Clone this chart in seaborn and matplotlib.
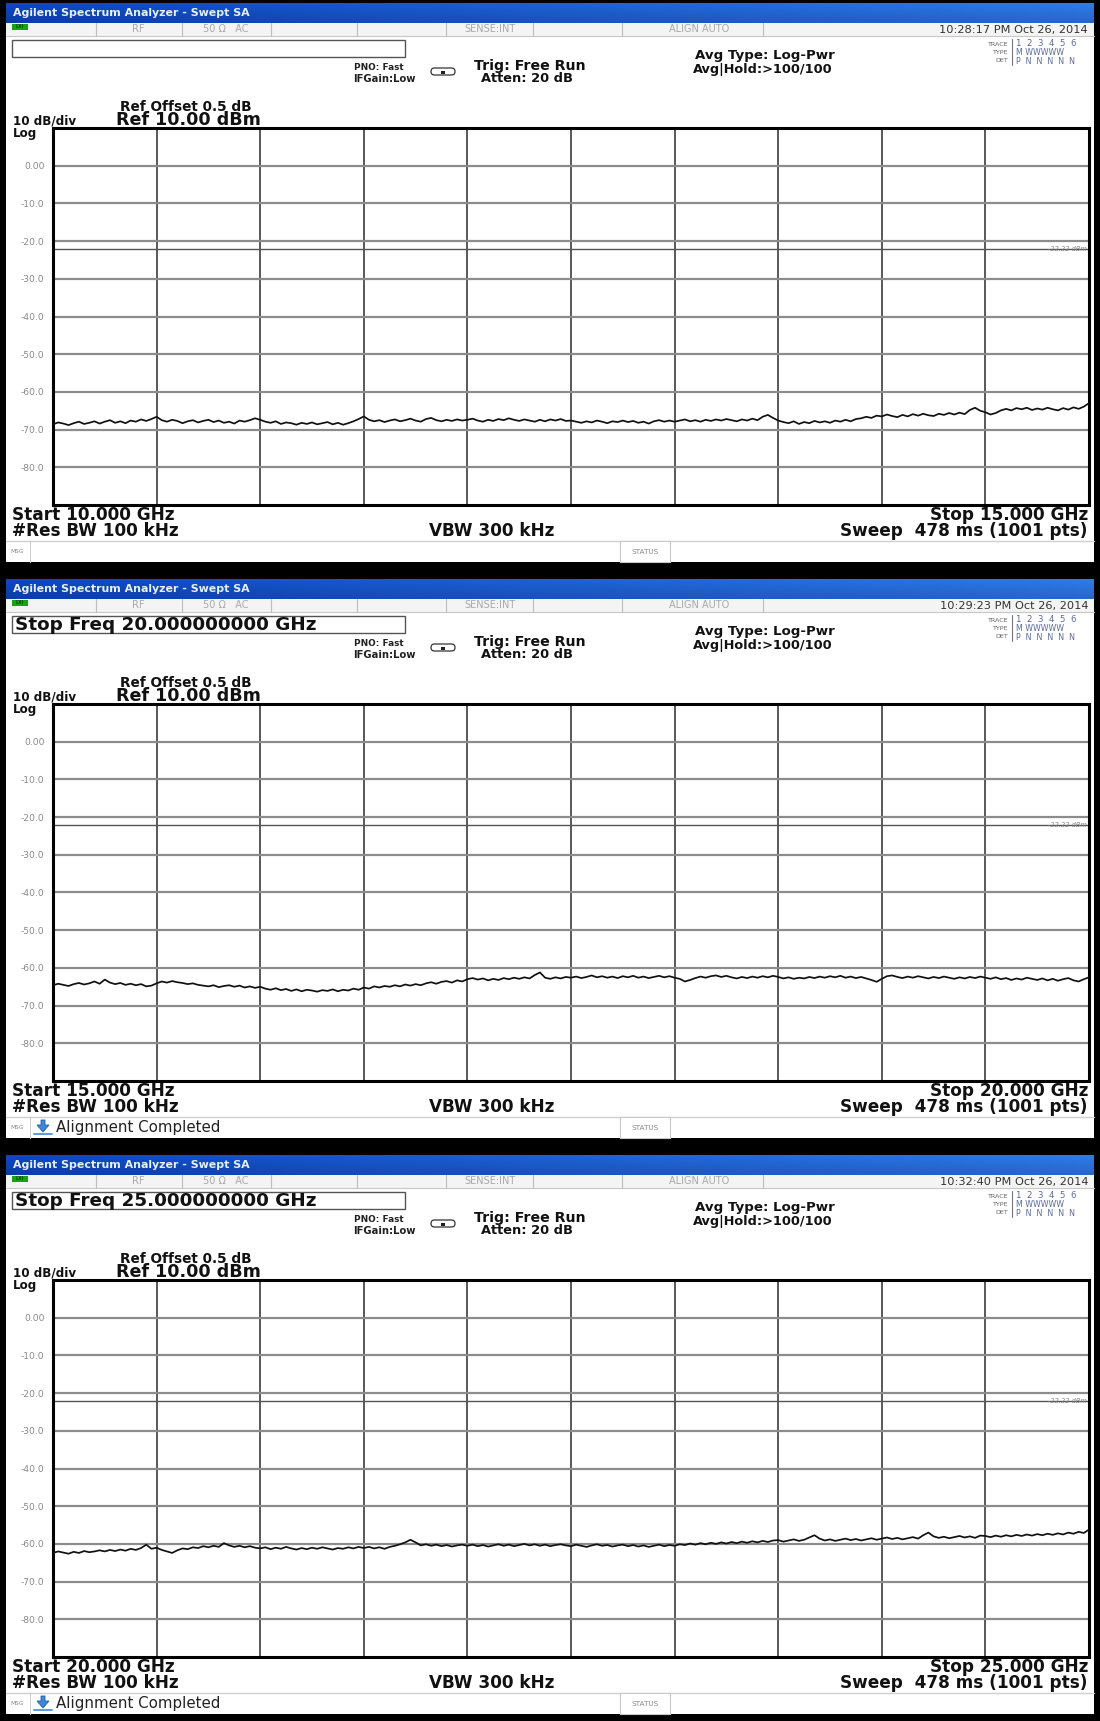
import numpy as np
import pandas as pd
import matplotlib
matplotlib.use("Agg")
import matplotlib.pyplot as plt
import seaborn as sns
from matplotlib.patches import Rectangle, FancyBboxPatch, Polygon

# ---------------------------------------------------------------- data
start_ghz = [10.0, 15.0, 20.0]
stop_ghz = [15.0, 20.0, 25.0]
input_text = ["", "Stop Freq 20.000000000 GHz", "Stop Freq 25.000000000 GHz"]
timestamps = ["10:28:17 PM Oct 26, 2014", "10:29:23 PM Oct 26, 2014",
              "10:32:40 PM Oct 26, 2014"]
msg_text = ["", "Alignment Completed", "Alignment Completed"]

ytick_values = [0, -10, -20, -30, -40, -50, -60, -70, -80]
ytick_labels = ["0.00", "-10.0", "-20.0", "-30.0", "-40.0", "-50.0",
                "-60.0", "-70.0", "-80.0"]
ref_level = 10.0
bottom_level = -90.0
display_line = -22.22

# averaged trace levels (dBm), one reading every 25 MHz across each span
trace_10_15 = [
    -68.6, -68.1, -68.4, -68.8, -68.3, -67.9, -68.5, -68.2, -67.8, -68.4,
    -67.9, -67.5, -68.2, -67.8, -68.3, -67.6, -67.9, -67.3, -67.7, -67.2,
    -66.6, -67.5, -67.9, -67.4, -67.7, -68.3, -67.8, -67.5, -68.1, -67.7,
    -67.4, -68.0, -67.6, -68.2, -67.9, -68.4, -67.6, -67.9, -67.5, -67.0,
    -67.4, -67.9, -68.2, -67.8, -68.5, -68.1, -68.3, -68.7, -68.2, -68.5,
    -68.1, -68.6, -68.3, -68.0, -68.6, -68.2, -68.7, -68.3, -67.8, -67.2,
    -66.5, -67.4, -67.8, -67.5, -68.0, -67.6, -67.3, -67.8, -67.5, -67.1,
    -67.6, -67.9, -67.2, -66.9, -67.5, -67.8, -67.4, -67.7, -67.3, -67.6,
    -67.4, -67.1, -67.6, -67.9, -67.4, -67.7, -67.2, -67.5, -67.0, -67.4,
    -67.7, -67.3, -67.6, -67.9, -67.4, -67.8, -67.3, -67.6, -67.2, -67.7,
    -67.6, -67.9, -68.2, -67.8, -68.1, -67.6, -67.9, -68.3, -67.8, -68.0,
    -67.6, -68.0, -67.7, -68.2, -67.9, -68.4, -67.8, -67.5, -67.9, -67.6,
    -67.9, -67.6, -67.3, -67.8, -67.5, -67.9, -67.4, -67.7, -67.3, -67.6,
    -67.2, -67.5, -67.8, -67.3, -67.6, -67.1, -67.5, -66.6, -66.1, -66.9,
    -67.6, -68.0, -68.3, -67.8, -68.5, -68.0, -68.3, -67.7, -68.1, -67.8,
    -68.2, -67.6, -67.9, -67.4, -67.8, -67.2, -67.0, -66.6, -66.9, -66.3,
    -66.5, -66.0, -66.4, -66.7, -66.1, -66.5, -65.9, -66.3, -65.8, -66.2,
    -66.4, -65.8, -66.1, -65.6, -66.0, -65.5, -65.9, -64.8, -64.2, -65.0,
    -65.4, -66.0, -65.6, -64.9, -64.5, -64.9, -64.3, -64.6, -64.2, -64.8,
    -64.4, -64.7, -64.2, -64.6, -64.9, -64.3, -64.7, -64.1, -64.5, -63.9,
    -63.0,
]
trace_15_20 = [
    -64.6, -64.2, -64.5, -64.8, -64.3, -64.0, -64.4, -64.1, -63.6, -64.2,
    -63.1, -63.9, -64.3, -64.0, -64.5, -64.2, -64.6, -64.3, -64.9, -64.7,
    -64.1, -63.6, -63.9, -63.5, -63.8, -64.0, -64.3, -64.1, -64.5, -64.7,
    -64.9, -64.6, -65.1, -64.8, -64.6, -65.0, -64.7, -65.2, -64.9, -65.3,
    -65.0, -65.5, -65.8, -65.4, -65.9, -65.6, -66.1, -65.7, -66.2, -65.8,
    -66.0, -66.3, -65.9, -66.1, -65.7, -66.2, -65.8, -66.0, -65.5, -65.8,
    -65.2, -65.5, -64.9, -65.2, -64.8, -65.0, -64.6, -64.9, -64.4, -64.7,
    -64.3, -64.6, -64.1, -63.8, -64.2, -63.7, -63.5, -63.9, -63.3, -63.6,
    -63.0, -62.7, -63.1, -62.8, -63.3, -62.9, -63.2, -62.7, -63.0, -62.6,
    -62.9, -62.5, -62.8, -61.9, -61.2, -62.6, -62.9, -62.5, -62.8, -62.4,
    -62.6, -62.3, -62.7, -62.4, -62.0, -62.5, -62.2, -62.6, -62.3, -62.7,
    -62.2, -62.5, -62.1, -62.6, -62.3, -62.7, -62.4, -62.1, -62.5, -62.2,
    -62.6, -62.9, -63.6, -63.2, -62.7, -62.3, -62.6, -62.2, -62.0, -62.4,
    -62.1, -62.5, -62.8, -62.4, -62.7, -62.3, -62.6, -62.2, -62.5, -62.1,
    -62.4, -62.8, -62.5, -62.9, -62.6, -62.8, -62.4, -62.7, -62.3, -62.6,
    -62.2, -62.5, -62.1, -62.6, -62.3, -62.7, -62.4, -62.8, -63.2, -63.7,
    -62.9, -62.2, -62.0, -62.4, -62.7, -62.3, -62.6, -62.2, -62.5, -62.8,
    -62.4, -62.7, -62.3, -62.6, -62.9, -62.5, -62.8, -62.4, -62.7, -62.3,
    -62.6, -62.9, -62.5, -63.0, -62.7, -63.2, -62.8, -63.1, -62.6, -62.9,
    -63.2, -62.8, -63.3, -62.9, -63.4, -63.0, -62.7, -63.3, -63.6, -63.0,
    -62.5,
]
trace_20_25 = [
    -62.4, -62.0, -62.3, -62.6, -62.1, -62.4, -61.9, -62.2, -62.0, -61.7,
    -62.0, -61.6, -61.9, -61.5, -61.8, -61.3, -61.6, -61.1, -60.2, -61.3,
    -61.0, -61.6, -62.0, -62.4, -61.7, -61.2, -61.4, -60.9, -61.1, -60.6,
    -60.9, -60.5, -60.8, -59.8, -60.4, -60.8, -60.5, -60.9, -60.6, -61.0,
    -61.2, -60.9, -61.4, -61.0, -61.3, -60.8, -61.2, -61.5, -61.1, -61.4,
    -61.0, -61.3, -60.9, -61.2, -61.5, -61.1, -61.3, -60.9, -61.2, -60.8,
    -61.1, -60.8, -61.2, -60.9, -61.3, -60.8, -60.5, -60.1, -59.6, -58.9,
    -59.6, -60.4, -60.1, -60.5, -60.2, -60.6, -60.3, -60.7, -60.4, -60.2,
    -60.5, -60.2, -60.6, -60.3, -60.7, -60.4, -60.1, -60.5, -60.2, -60.6,
    -60.3, -60.0, -60.4, -60.1, -60.5, -60.2, -60.6, -60.3, -60.1, -60.4,
    -60.6, -60.2, -60.5, -60.8, -60.4, -60.1, -60.5, -60.3, -60.7, -60.4,
    -60.2, -60.6, -60.3, -60.7, -60.4, -60.8, -60.5, -60.2, -60.6, -60.3,
    -60.5, -60.1, -60.3, -59.9, -60.2, -59.8, -60.1, -59.7, -60.0, -59.6,
    -59.9, -59.5, -59.8, -59.4, -59.7, -59.3, -59.6, -59.2, -59.5, -59.1,
    -59.0, -59.4, -59.1, -58.8, -59.2, -58.9, -58.3, -57.7, -58.6, -59.1,
    -58.8, -59.2, -58.9, -58.6, -59.0, -58.7, -59.1, -58.8, -58.5, -58.9,
    -58.6, -58.3, -58.7, -58.4, -58.8, -58.5, -58.2, -58.6, -57.7, -57.0,
    -58.0, -58.4, -58.1, -58.5, -58.2, -57.9, -58.3, -58.0, -58.4, -57.8,
    -57.9, -58.2, -57.8, -58.1, -57.7, -58.0, -57.6, -57.9, -57.5, -57.8,
    -57.4, -57.7, -57.3, -57.6, -57.2, -57.5, -57.0, -57.3, -56.8, -57.1,
    -56.2,
]
traces = [trace_10_15, trace_15_20, trace_20_25]

# ---------------------------------------------------------------- style
sns.set_theme(style="white")
plt.rcParams["font.family"] = ["DejaVu Sans"]

W, H = 1100, 1721
STEP = 576
fig = plt.figure(figsize=(W / 100, H / 100), dpi=100, facecolor="black")

bg = fig.add_axes([0, 0, 1, 1])
bg.set_axis_off()


def frac(x, y, w, h):
    return [x / W, 1 - (y + h) / H, w / W, h / H]


def txt(x, y, s, size, weight="bold", color="black", ha="left", **kw):
    bg.text(x, y, s, fontsize=size, fontweight=weight, color=color,
            ha=ha, va="center", **kw)


grad_h = np.linspace(0, 1, 256)[None, :]
grad_v = np.linspace(0, 1, 12)[:, None]
c0 = np.array([0.05, 0.28, 0.76])
c1 = np.array([0.18, 0.48, 0.92])
blue = c0 + (c1 - c0) * grad_h[..., None]
blue = blue * (1.0 - 0.15 * grad_v[..., None])
blue = np.clip(blue, 0, 1)

for i in range(3):
    y0 = i * STEP
    # white screen area
    bg.add_patch(Rectangle((6, y0 + 22), 1088, 540, facecolor="white",
                           edgecolor="none"))
    # blue window title
    bg.imshow(blue, extent=[6, 1094, y0 + 23, y0 + 3], aspect="auto",
              interpolation="bilinear", zorder=1)
    txt(13, y0 + 13.5, "Agilent Spectrum Analyzer - Swept SA", 7.9,
        color="#e8f0ff", zorder=2)

    # status row
    bg.add_patch(Rectangle((6, y0 + 23), 1088, 13, facecolor="#f4f4f4",
                           edgecolor="none", zorder=1))
    bg.plot([6, 1094], [y0 + 36, y0 + 36], color="#c8c8c8", lw=0.8, zorder=2)
    for xd in [96, 182, 271, 357, 446, 533, 622, 763]:
        bg.plot([xd, xd], [y0 + 23, y0 + 36], color="#bdbdbd", lw=0.8,
                zorder=2)
    bg.add_patch(Rectangle((12, y0 + 24), 16, 6, facecolor="#1aa11a",
                           edgecolor="none", zorder=2))
    txt(20, y0 + 27, "LXI", 3.4, color="#0b4d0b", ha="center", zorder=3)
    txt(138, y0 + 29.5, "RF", 7.0, weight="normal", color="#a8a8a8",
        ha="center", zorder=3)
    txt(226, y0 + 29.5, "50 \u03a9   AC", 7.0, weight="normal",
        color="#a8a8a8", ha="center", zorder=3)
    txt(490, y0 + 29.5, "SENSE:INT", 7.0, weight="normal", color="#a8a8a8",
        ha="center", zorder=3)
    txt(699, y0 + 29.5, "ALIGN AUTO", 7.0, weight="normal", color="#a8a8a8",
        ha="center", zorder=3)
    txt(1088, y0 + 29.5, timestamps[i], 8.2, weight="normal",
        color="#333333", ha="right", zorder=3)

    # input box
    bg.add_patch(Rectangle((12, y0 + 40), 393, 17, facecolor="white",
                           edgecolor="#555555", lw=1.0, zorder=2))
    if input_text[i]:
        txt(15, y0 + 49, input_text[i], 13.2, color="#111111", zorder=3)

    # acquisition settings
    txt(379, y0 + 67, "PNO: Fast", 6.4, color="#222222", ha="center",
        zorder=3)
    txt(384, y0 + 79, "IFGain:Low", 7.2, color="#222222", ha="center",
        zorder=3)
    bg.add_patch(FancyBboxPatch((431, y0 + 68), 24, 7,
                                boxstyle="round,pad=0,rounding_size=3.5",
                                facecolor="white", edgecolor="#333333",
                                lw=0.9, zorder=3))
    bg.add_patch(Rectangle((441, y0 + 71), 4, 3, facecolor="#222222",
                           edgecolor="none", zorder=4))
    txt(474, y0 + 66, "Trig: Free Run", 10.2, color="#111111", zorder=3)
    txt(481, y0 + 78.5, "Atten: 20 dB", 9.4, color="#111111", zorder=3)
    txt(695, y0 + 55, "Avg Type: Log-Pwr", 9.6, color="#111111", zorder=3)
    txt(693, y0 + 70, "Avg|Hold:>100/100", 9.3, color="#111111", zorder=3)

    # trace table
    txt(1008, y0 + 44, "TRACE", 4.6, weight="normal", color="#666666",
        ha="right", zorder=3)
    txt(1008, y0 + 52.5, "TYPE", 4.6, weight="normal", color="#666666",
        ha="right", zorder=3)
    txt(1008, y0 + 61, "DET", 4.6, weight="normal", color="#666666",
        ha="right", zorder=3)
    bg.plot([1012, 1012], [y0 + 39, y0 + 65], color="#777777", lw=0.8,
            zorder=3)
    txt(1016, y0 + 44, "1  2  3  4  5  6", 6.2, weight="normal",
        color="#5a6c9a", zorder=3)
    txt(1016, y0 + 52.5, "M WWWWW", 5.7, weight="normal", color="#5a6c9a",
        zorder=3)
    txt(1016, y0 + 61, "P  N  N  N  N  N", 5.7, weight="normal",
        color="#5a6c9a", zorder=3)

    # reference annotations
    txt(120, y0 + 107, "Ref Offset 0.5 dB", 9.8, color="#111111", zorder=3)
    txt(116, y0 + 120, "Ref 10.00 dBm", 12.6, color="#111111", zorder=3)
    txt(13, y0 + 120.5, "10 dB/div", 8.6, color="#111111", zorder=3)
    txt(13, y0 + 133, "Log", 8.6, color="#111111", zorder=3)

    # footer
    txt(12, y0 + 515, "Start %.3f GHz" % start_ghz[i], 12.2,
        color="#111111", zorder=3)
    txt(12, y0 + 531, "#Res BW 100 kHz", 12.2, color="#111111", zorder=3)
    txt(492, y0 + 531, "VBW 300 kHz", 12.2, color="#111111", ha="center",
        zorder=3)
    txt(1088, y0 + 515, "Stop %.3f GHz" % stop_ghz[i], 12.2,
        color="#111111", ha="right", zorder=3)
    txt(1088, y0 + 531, "Sweep  478 ms (1001 pts)", 12.2, color="#111111",
        ha="right", zorder=3)

    # message bar
    bg.plot([6, 1094], [y0 + 541, y0 + 541], color="#cfcfcf", lw=1.0,
            zorder=3)
    bg.plot([30, 30], [y0 + 541, y0 + 562], color="#d0d0d0", lw=0.8,
            zorder=3)
    txt(10, y0 + 551.5, "MSG", 4.2, weight="normal", color="#888888",
        zorder=3)
    bg.add_patch(Rectangle((620, y0 + 541), 50, 21, facecolor="white",
                           edgecolor="#c9c9c9", lw=0.8, zorder=3))
    txt(645, y0 + 551.5, "STATUS", 5.2, weight="normal", color="#888888",
        ha="center", zorder=4)
    if msg_text[i]:
        bg.add_patch(Polygon([[37, y0 + 549], [41, y0 + 549],
                              [41, y0 + 544], [45, y0 + 544],
                              [45, y0 + 549], [49, y0 + 549],
                              [43, y0 + 556]],
                             closed=True, facecolor="#3d86d8",
                             edgecolor="#1f5fb0", lw=0.6, zorder=4))
        bg.plot([34, 52], [y0 + 558, y0 + 558], color="#5b9be0", lw=1.4,
                zorder=4)
        txt(56, y0 + 551.5, msg_text[i], 10.8, weight="normal",
            color="#222222", zorder=4)

bg.set_xlim(0, W)
bg.set_ylim(H, 0)

# ---------------------------------------------------------------- traces
for i in range(3):
    y0 = i * STEP
    ax = fig.add_axes(frac(53, y0 + 128, 1036, 377))
    ax.set_facecolor("white")
    n = len(traces[i])
    df = pd.DataFrame({
        "freq": start_ghz[i] + np.arange(n) * (stop_ghz[i] - start_ghz[i]) / (n - 1),
        "level": traces[i],
    })
    xt = start_ghz[i] + np.arange(1, 10) * 0.5
    for xv in xt:
        ax.axvline(xv, color="#2b2b2b", lw=1.1, zorder=1)
    for yv in ytick_values:
        ax.axhline(yv, color="#8c8c8c", lw=1.6, zorder=1)
    ax.axhline(display_line, color="#555555", lw=1.0, zorder=1)
    ax.text(stop_ghz[i] - 0.01, display_line, "-22.22 dBm", fontsize=4.8,
            color="#8a8a8a", ha="right", va="center", style="italic",
            zorder=2)
    sns.lineplot(data=df, x="freq", y="level", ax=ax, color="#111111",
                 lw=1.25, zorder=3)
    ax.set_xlim(start_ghz[i], stop_ghz[i])
    ax.set_ylim(bottom_level, ref_level)
    ax.set_xticks([])
    ax.set_yticks(ytick_values, ytick_labels)
    ax.tick_params(axis="y", length=0, labelsize=6.6, labelcolor="#8a8a8a",
                   pad=6)
    ax.set_xlabel("")
    ax.set_ylabel("")
    for s in ax.spines.values():
        s.set_visible(True)
        s.set_color("black")
        s.set_linewidth(2.2)

fig.savefig("out.png", dpi=100, facecolor="black")
